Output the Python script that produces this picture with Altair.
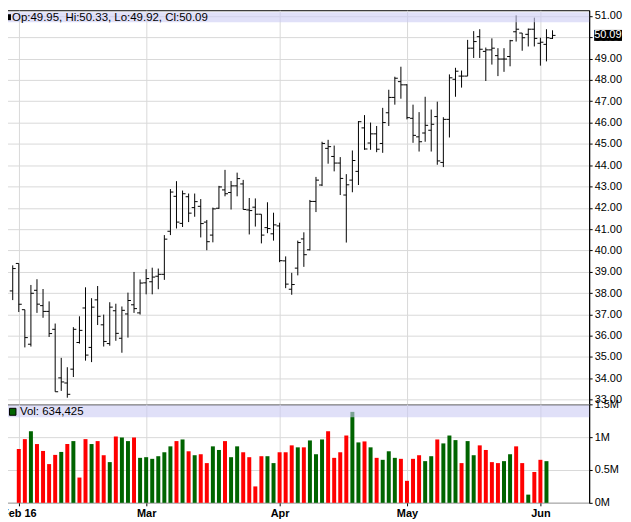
import altair as alt
import pandas as pd

# ---------------- data ----------------
opens = [38.10, 39.39, 37.22, 35.60, 38.13, 37.41, 37.14, 36.30, 34.02, 33.78,
         34.43, 35.68, 37.30, 35.45, 37.68, 36.51, 35.63, 37.17, 35.88, 37.02,
         37.45, 37.07, 38.48, 38.53, 38.79, 38.88, 40.90, 42.54, 41.27, 42.52,
         42.01, 42.07, 41.33, 40.72, 41.98, 42.84, 42.72, 43.03, 43.12, 41.90,
         42.03, 41.70, 41.07, 40.78, 41.15, 39.51, 38.18, 39.17, 40.54, 40.03,
         42.30, 43.07, 44.79, 44.41, 44.10, 42.60, 43.30, 43.71, 45.75, 45.04,
         45.47, 45.02, 46.46, 47.18, 47.92, 47.77, 46.20, 45.33, 45.51, 45.64,
         46.28, 44.13, 46.15, 48.03, 48.18, 48.18, 49.49, 50.03, 49.34, 49.41,
         49.14, 48.98, 49.10, 50.26, 50.20, 50.14, 50.38, 49.72, 49.67, 49.95]
highs = [39.30, 39.39, 37.22, 38.38, 38.65, 38.19, 37.61, 36.57, 34.96, 34.52,
         36.40, 36.91, 38.27, 37.76, 38.33, 36.99, 37.57, 37.50, 37.37, 38.02,
         38.99, 38.64, 39.12, 39.19, 39.15, 40.72, 42.88, 43.25, 42.81, 42.67,
         42.67, 42.41, 41.43, 42.01, 43.03, 43.78, 43.26, 43.65, 43.31, 42.46,
         42.44, 41.70, 42.26, 41.77, 41.30, 39.72, 38.95, 40.46, 40.85, 42.37,
         43.45, 45.10, 45.19, 44.92, 44.38, 43.58, 44.69, 46.07, 46.35, 46.00,
         45.84, 46.69, 47.54, 48.15, 48.62, 47.80, 46.84, 46.49, 47.21, 46.61,
         46.98, 46.25, 48.26, 48.57, 48.44, 49.88, 50.29, 50.38, 49.52, 49.95,
         49.49, 49.49, 49.88, 51.03, 50.20, 50.41, 50.92, 49.98, 50.38, 50.33]
lows = [37.67, 37.11, 35.45, 35.49, 37.07, 36.84, 35.94, 33.37, 33.41, 33.09,
        34.06, 35.63, 34.83, 34.76, 36.50, 35.49, 35.53, 35.76, 35.20, 35.91,
        37.07, 36.99, 37.94, 37.94, 38.18, 38.62, 40.72, 41.03, 41.10, 41.33,
        41.58, 40.61, 40.01, 40.38, 41.95, 42.54, 41.92, 42.54, 41.92, 40.75,
        41.12, 40.33, 40.81, 40.46, 39.45, 38.23, 37.92, 38.83, 39.23, 40.00,
        41.80, 43.02, 44.07, 43.71, 42.60, 40.37, 42.73, 43.07, 44.72, 44.72,
        44.61, 44.58, 45.84, 46.84, 47.12, 46.15, 45.05, 44.64, 45.10, 44.64,
        44.02, 43.91, 45.30, 47.21, 47.64, 48.18, 49.03, 49.03, 47.95, 48.72,
        48.18, 48.38, 48.64, 49.80, 49.37, 49.57, 49.57, 48.67, 48.87, 49.92]
closes = [39.15, 37.48, 35.91, 37.99, 37.48, 37.14, 36.10, 33.37, 33.83, 33.25,
          36.30, 36.25, 35.09, 37.34, 36.91, 35.73, 37.34, 36.11, 37.19, 37.65,
          37.27, 38.47, 38.68, 38.75, 38.88, 40.53, 42.74, 41.33, 42.66, 41.75,
          42.29, 41.26, 40.41, 41.95, 42.98, 42.66, 43.03, 43.37, 41.92, 41.87,
          41.70, 40.72, 41.03, 41.20, 39.52, 38.42, 38.40, 40.37, 39.80, 42.30,
          43.30, 45.02, 44.87, 44.10, 43.38, 43.08, 44.22, 46.04, 44.76, 45.47,
          44.75, 46.00, 47.18, 48.08, 47.77, 46.23, 45.40, 45.10, 45.87, 45.92,
          44.20, 46.15, 48.10, 48.41, 48.18, 49.49, 49.80, 49.44, 49.41, 49.49,
          48.98, 48.98, 49.84, 50.38, 49.98, 50.38, 49.95, 49.77, 49.98, 50.09]

# volume bars start under the second price bar
vol_first_bar = 1
volumes = [820000, 970000, 1090000, 895000, 790000, 590000, 730000, 775000, 895000, 940000,
           385000, 970000, 895000, 940000, 725000, 620000, 1010000, 995000, 940000, 995000,
           685000, 695000, 670000, 710000, 770000, 860000, 940000, 965000, 785000, 725000,
           740000, 605000, 860000, 805000, 940000, 695000, 860000, 770000, 695000, 250000,
           710000, 710000, 605000, 770000, 770000, 875000, 845000, 845000, 950000, 740000,
           965000, 1090000, 685000, 770000, 1025000, 1385000, 920000, 935000, 845000, 685000,
           655000, 785000, 685000, 670000, 335000, 670000, 725000, 635000, 710000, 965000,
           905000, 1025000, 955000, 605000, 940000, 725000, 875000, 805000, 620000, 605000,
           635000, 740000, 860000, 605000, 125000, 470000, 655000, 634425]
vol_dirs = list("RRGRRRRGRG" "RRGRRGRGGR" "GGGGGGRGRG" "RRGGRGGRRR"
                "RGGRRRGRGG" "GRRRRGGRGR" "GGGRRRRGGR" "GGGRGGRRRR"
                "GGRRGRRG")

tick_pos = [1, 22, 44, 65, 87]
tick_labels = ["Feb 16", "Mar", "Apr", "May", "Jun"]
price_ticks = list(range(33, 52))
vol_ticks = [0, 500000, 1000000, 1500000]
vol_tick_labels = ["0M", "0.5M", "1M", "1.5M"]
price_header = "Op:49.95, Hi:50.33, Lo:49.92, Cl:50.09"
vol_header = "Vol: 634,425"
last_close = 50.09

# ---------------- layout ----------------
W = 587
H1 = 396
H2 = 99
FONT = "Liberation Sans"
GRID = "#d9d9d9"
X_DOMAIN = [-0.45, 94.22]
P_DOMAIN = [32.78, 51.27]

df = pd.DataFrame({"i": list(range(len(opens))), "o": opens, "h": highs,
                   "l": lows, "c": closes})
vdf = pd.DataFrame({"i": list(range(vol_first_bar, vol_first_bar + len(volumes))),
                    "v": volumes,
                    "d": ["up" if d == "G" else "down" for d in vol_dirs]})
one = pd.DataFrame({"p": [last_close], "t": [f"{last_close:.2f}"]})

xscale = alt.Scale(domain=X_DOMAIN, nice=False, zero=False)
pscale = alt.Scale(domain=P_DOMAIN, nice=False, zero=False)
vscale = alt.Scale(domain=[0, 1500000], nice=False, zero=False)


def chain(vals, labs):
    expr = "''"
    for v, s in reversed(list(zip(vals, labs))):
        expr = f"datum.value == {v} ? '{s}' : ({expr})"
    return expr


x_grid_only = alt.Axis(values=tick_pos, grid=True, gridColor=GRID, labels=False,
                       ticks=False, domain=False, title=None, minExtent=0,
                       maxExtent=0, labelPadding=0, offset=0)
x_labelled = alt.Axis(values=tick_pos, grid=True, gridColor=GRID,
                      labelExpr=chain(tick_pos, tick_labels), labelFont=FONT,
                      labelFontSize=11, labelFontWeight="bold", labelColor="black",
                      tickSize=3, tickColor="black", domain=False, title=None,
                      labelPadding=2)
p_axis = alt.Axis(orient="right", values=price_ticks, format=".2f", grid=True,
                  gridColor=GRID, labelFont=FONT, labelFontSize=11, labelColor="black",
                  tickSize=3, tickColor="black", domainColor="black", title=None,
                  labelPadding=2, labelOverlap=False, labelBound=False)
v_axis = alt.Axis(orient="right", values=vol_ticks, labelExpr=chain(vol_ticks, vol_tick_labels),
                  grid=True, gridColor=GRID, labelFont=FONT, labelFontSize=11,
                  labelColor="black", tickSize=3, tickColor="black", domainColor="black",
                  title=None, labelPadding=2, labelOverlap=False)

base = alt.Chart(df)
hl = base.mark_rule(color="black", strokeWidth=1).encode(
    x=alt.X("i:Q", scale=xscale, axis=x_grid_only),
    y=alt.Y("l:Q", scale=pscale, axis=p_axis),
    y2="h:Q")
op = base.mark_tick(orient="horizontal", size=3, thickness=1, xOffset=-1.5,
                    color="black", opacity=1).encode(
    x=alt.X("i:Q", scale=xscale, axis=x_grid_only),
    y=alt.Y("o:Q", scale=pscale, axis=p_axis))
cl = base.mark_tick(orient="horizontal", size=3, thickness=1, xOffset=1.5,
                    color="black", opacity=1).encode(
    x=alt.X("i:Q", scale=xscale, axis=x_grid_only),
    y=alt.Y("c:Q", scale=pscale, axis=p_axis))

band_src = alt.Chart(one)
p_band = band_src.mark_rect(color="#cbcbf3", opacity=0.6).encode(
    x=alt.value(0), x2=alt.value(W), y=alt.value(2), y2=alt.value(12))
p_sq = band_src.mark_rect(color="black").encode(
    x=alt.value(1.5), x2=alt.value(6), y=alt.value(4), y2=alt.value(10))
p_txt = band_src.mark_text(align="left", baseline="middle", font=FONT, fontSize=11.5,
                           color="black").encode(
    x=alt.value(7), y=alt.value(7.5), text=alt.value(price_header))
hi_box = band_src.mark_tick(orient="horizontal", size=28, thickness=11, color="black",
                            opacity=1).encode(
    x=alt.value(W + 19), y=alt.Y("p:Q", scale=pscale, axis=p_axis))
hi_txt = band_src.mark_text(align="left", baseline="middle", font=FONT, fontSize=11,
                            color="white").encode(
    x=alt.value(W + 5), y=alt.Y("p:Q", scale=pscale, axis=p_axis), text="t:N")

price = alt.layer(hl, op, cl, p_band, p_sq, p_txt, hi_box, hi_txt).properties(
    width=W, height=H1)

vbars = alt.Chart(vdf).mark_bar(size=4).encode(
    x=alt.X("i:Q", scale=xscale, axis=x_labelled),
    y=alt.Y("v:Q", scale=vscale, axis=v_axis),
    color=alt.Color("d:N", scale=alt.Scale(domain=["up", "down"],
                                           range=["#006400", "#ff0000"]), legend=None))
v_band = band_src.mark_rect(color="#cbcbf3", opacity=0.6).encode(
    x=alt.value(0), x2=alt.value(W), y=alt.value(1), y2=alt.value(13))
v_sq = band_src.mark_rect(color="#006400", stroke="black", strokeWidth=1).encode(
    x=alt.value(4.5), x2=alt.value(11), y=alt.value(4), y2=alt.value(11))
v_txt = band_src.mark_text(align="left", baseline="middle", font=FONT, fontSize=11.5,
                           color="black").encode(
    x=alt.value(15), y=alt.value(7.5), text=alt.value(vol_header))

volume = alt.layer(vbars, v_band, v_sq, v_txt).properties(width=W, height=H2)

chart = alt.vconcat(price, volume, spacing=0, bounds="flush").properties(
    padding={"left": -8, "top": 0, "right": 0, "bottom": 0},
    background="white"
).configure_view(stroke="black", strokeWidth=1).resolve_scale(x="shared")

chart.save("out.html", embed_options={"renderer": "svg", "actions": False})
